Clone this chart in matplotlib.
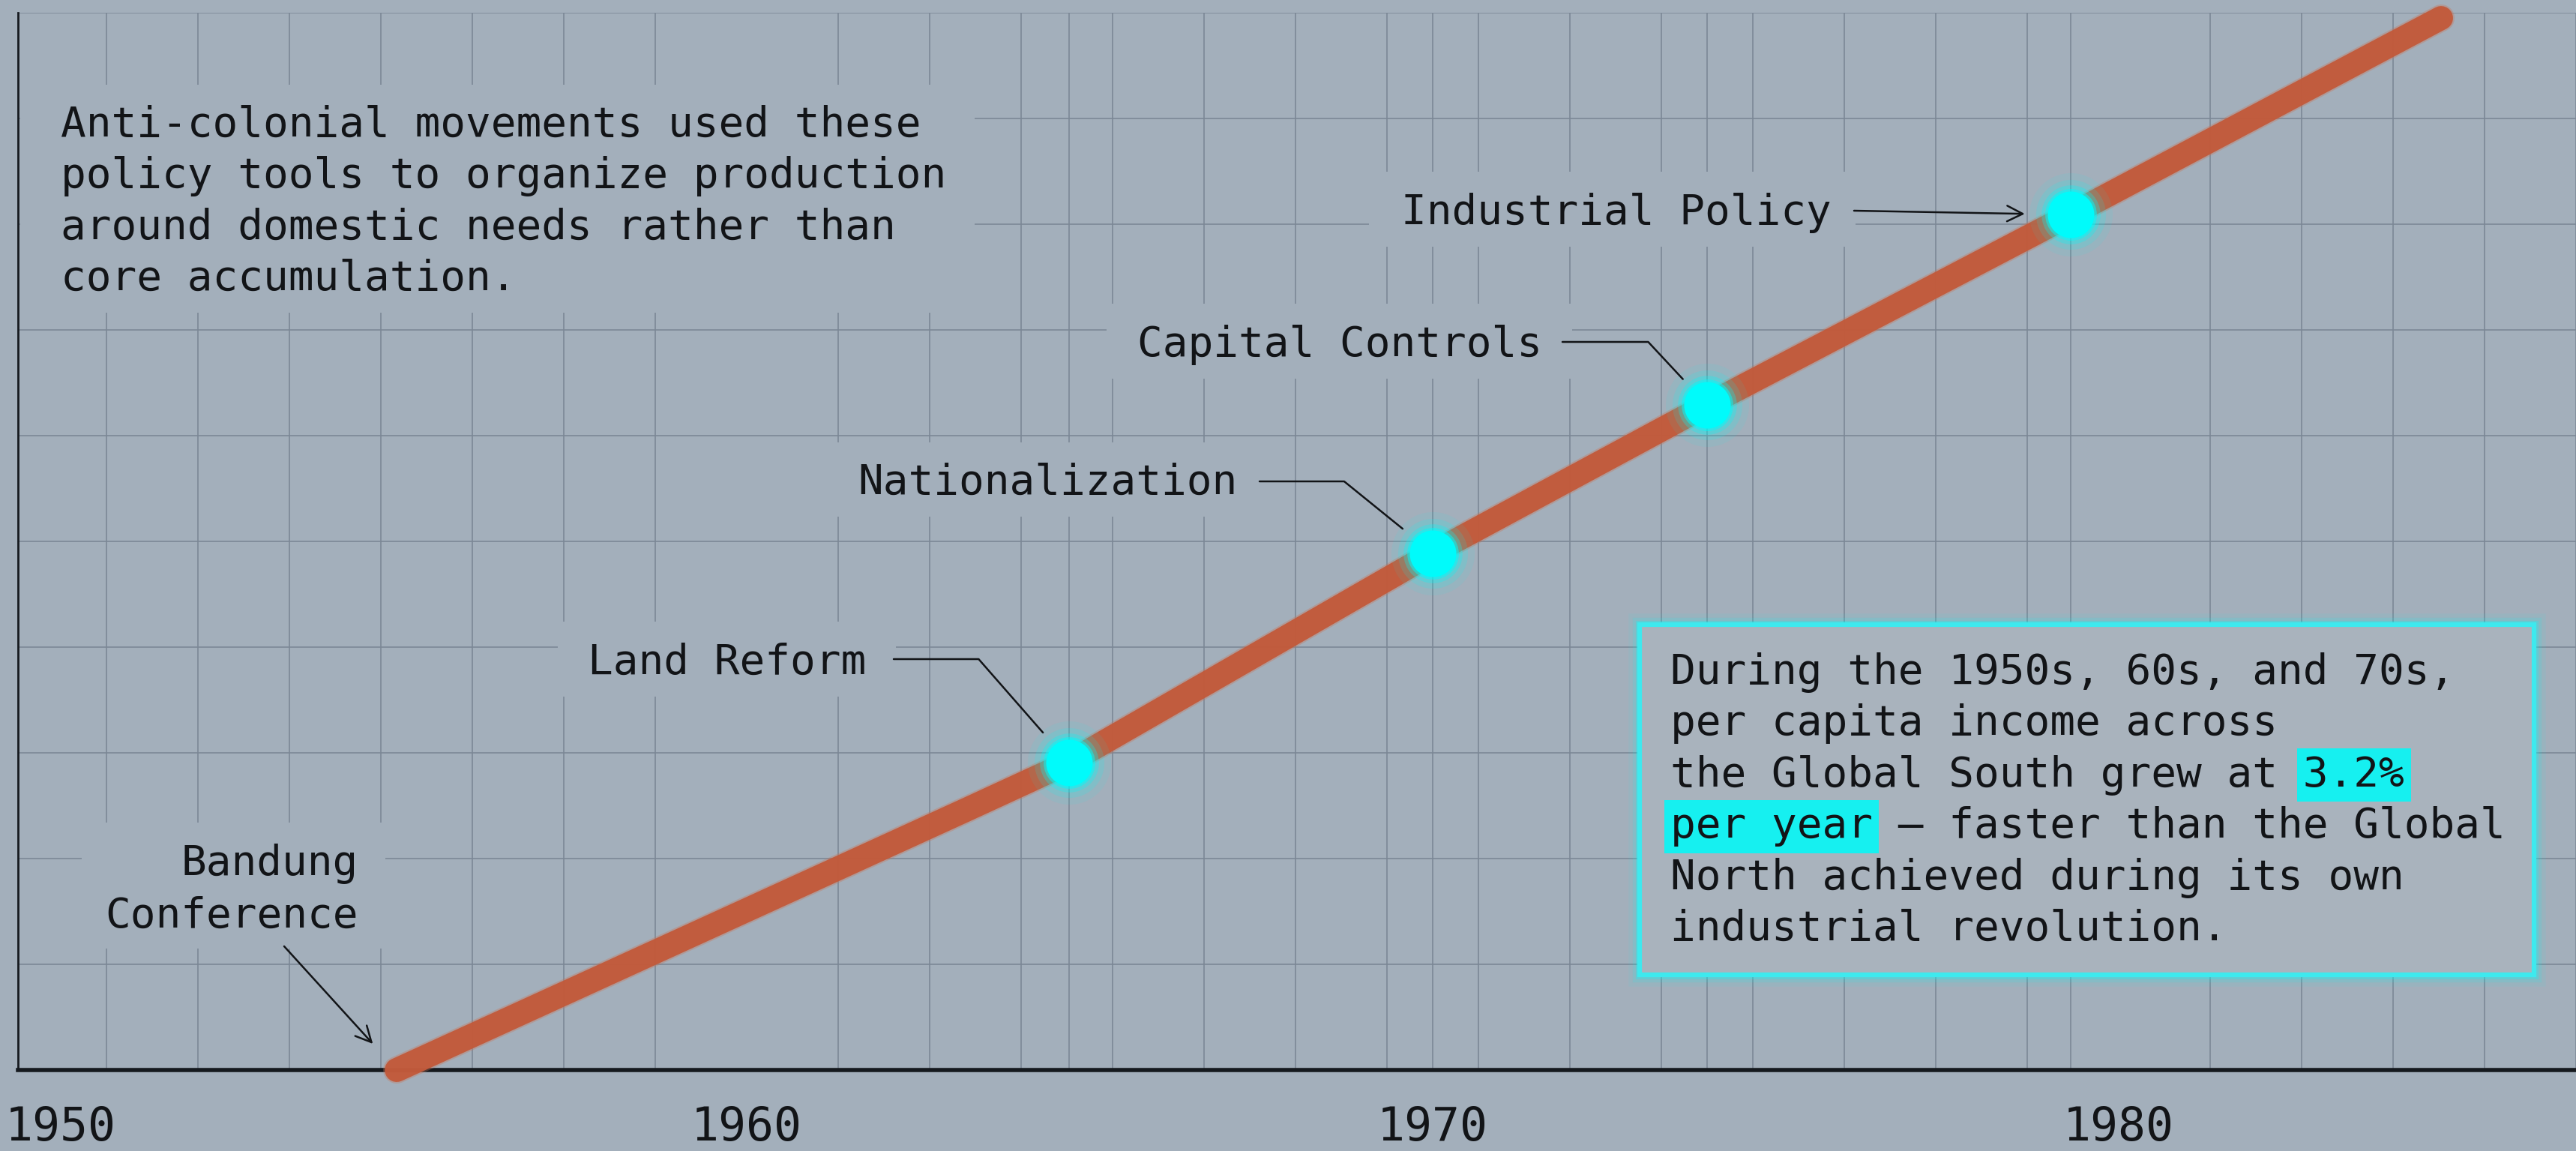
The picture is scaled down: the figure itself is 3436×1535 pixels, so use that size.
import numpy as np
import matplotlib
matplotlib.use("Agg")
import matplotlib.pyplot as plt
from matplotlib.patches import Rectangle

# ---------------- data ----------------
years = [1954.9, 1963.23, 1964.7, 1970.0, 1974.0, 1979.3, 1984.7]
income_index = [0.0, 2.47, 2.91, 4.89, 6.29, 8.09, 9.95]

event_labels = ["Land Reform", "Nationalization", "Capital Controls", "Industrial Policy"]
event_years = [1964.7, 1970.0, 1974.0, 1979.3]
event_values = [2.91, 4.89, 6.29, 8.09]

start_label = ["Bandung", "Conference"]

x_ticks = [1950, 1960, 1970, 1980]
x_tick_labels = ["1950", "1960", "1970", "1980"]

note_lines = [
    "Anti-colonial movements used these",
    "policy tools to organize production",
    "around domestic needs rather than",
    "core accumulation.",
]
box_lines = [
    "During the 1950s, 60s, and 70s,",
    "per capita income across",
    "the Global South grew at 3.2%",
    "per year \u2014 faster than the Global",
    "North achieved during its own",
    "industrial revolution.",
]
box_highlights = [(2, "3.2%"), (3, "per year")]

# ---------------- style ----------------
W, H, DPI = 3436, 1535, 100
BG = "#a3afbb"
GRID = "#7b8795"
INK = "#121417"
LINE = "#c25a3b"
CYAN = "#00fbfb"
BOXFACE = "#a9b3bd"
HL = "#16f0f0"
MONO = "DejaVu Sans Mono"
FS = 40.4
FS_TICK = 44.3
ADV_PX = 0.60205 * FS * DPI / 72.0

fig = plt.figure(figsize=(W / DPI, H / DPI), dpi=DPI, facecolor=BG)
ax = fig.add_axes([24 / W, (H - 1427) / H, (W - 24) / W, (1427 - 17) / H])
ax.set_facecolor(BG)
ax.set_xlim(1949.38, 1986.47)
ax.set_ylim(0, 10)


def fx(x):
    return x / W


def fy(y):
    return 1 - y / H


def mask(x0, y0, x1, y1, fc=BG, z=1):
    ax.add_patch(Rectangle((fx(x0), fy(y1)), (x1 - x0) / W, (y1 - y0) / H,
                           transform=fig.transFigure, fc=fc, ec="none",
                           zorder=z, clip_on=False))


def ftext(x, y, s, ha="left", z=8, **kw):
    return ax.text(fx(x), fy(y), s, transform=fig.transFigure, ha=ha,
                   va="baseline", fontsize=FS, family=MONO, color=INK,
                   zorder=z, clip_on=False, **kw)


# grid
ax.set_yticks(range(0, 11))
ax.set_yticklabels([])
minor_x = np.arange(1960 - 7 * 4 / 3, 1987, 4 / 3)
ax.set_xticks(minor_x, minor=True)
ax.set_xticks(x_ticks)
ax.set_xticklabels(x_tick_labels, fontsize=FS_TICK, family=MONO, color=INK)
ax.tick_params(axis="both", which="both", length=0)
ax.tick_params(axis="x", pad=34)
ax.grid(False)
ax.grid(True, which="minor", axis="x", color=GRID, lw=1.3, alpha=0.9)
ax.grid(True, which="major", axis="y", color=GRID, lw=1.3, alpha=0.9)
ax.set_axisbelow(True)
for ey in event_years:
    ax.axvline(ey, color=GRID, lw=1.3, alpha=0.9, zorder=0.5)

for s in ["top", "right"]:
    ax.spines[s].set_visible(False)
ax.spines["left"].set_linewidth(2.0)
ax.spines["left"].set_color("#15191e")
ax.spines["bottom"].set_linewidth(4.0)
ax.spines["bottom"].set_color("#15191e")

# main line
ax.plot(years, income_index, color="#c97457", lw=26, alpha=0.35,
        solid_capstyle="round", solid_joinstyle="round", clip_on=False, zorder=3)
ax.plot(years, income_index, color=LINE, lw=23, alpha=0.97,
        solid_capstyle="round", solid_joinstyle="round", clip_on=False, zorder=3)

# glowing markers
for s, a in [(6400, 0.07), (4500, 0.14), (3200, 0.28), (2450, 0.5)]:
    ax.scatter(event_years, event_values, s=s, color=CYAN, alpha=a, lw=0, zorder=4)
ax.scatter(event_years, event_values, s=2000, color=CYAN, lw=0, zorder=5)

# ---------------- annotations ----------------
conn_kw = dict(color=INK, lw=1.8, shrinkA=0)

# label texts: (right edge px, baseline px, mask box)
label_layout = [
    (1155, 899, (744, 829, 1195, 929)),
    (1650, 659, (1100, 590, 1677, 689)),
    (2057, 475, (1476, 405, 2097, 505)),
    (2443, 299, (1826, 229, 2475, 329)),
]
for lab, (xr, yb, mb) in zip(event_labels, label_layout):
    mask(*mb)
    ftext(xr, yb, lab, ha="right")

# elbow connectors (start px, angleB, shrinkB pt)
conn_layout = [((1192, 879), 131.2, 38), ((1680, 642), 141.0, 37), ((2084, 456), 133.0, 34)]
for (ex, ev), ((sx, sy), angB, shB) in zip(zip(event_years[:3], event_values[:3]), conn_layout):
    ax.annotate("", xy=(ex, ev), xycoords="data",
                xytext=(fx(sx), fy(sy)), textcoords="figure fraction",
                arrowprops=dict(arrowstyle="-", shrinkB=shB,
                                connectionstyle=f"angle,angleA=0,angleB={angB},rad=0",
                                **conn_kw),
                annotation_clip=False, zorder=6)

# Industrial policy arrow
ax.annotate("", xy=(event_years[3], event_values[3]), xycoords="data",
            xytext=(fx(2473), fy(281)), textcoords="figure fraction",
            arrowprops=dict(arrowstyle="->,head_length=0.5,head_width=0.25",
                            mutation_scale=30, shrinkB=44, **conn_kw),
            annotation_clip=False, zorder=6)

# Bandung Conference
mask(109, 1097, 514, 1265)
ftext(478, 1167, start_label[0], ha="right")
ftext(478, 1237, start_label[1], ha="right")
ax.annotate("", xy=(years[0], income_index[0]), xycoords="data",
            xytext=(fx(379), fy(1262)), textcoords="figure fraction",
            arrowprops=dict(arrowstyle="->,head_length=0.5,head_width=0.25",
                            mutation_scale=30, shrinkB=34, **conn_kw),
            annotation_clip=False, zorder=6)

# top-left note
mask(27, 113, 1300, 417)
for i, line in enumerate(note_lines):
    ftext(81, 182 + i * 68.4, line)

# info box
bx0, by0, bx1, by1 = 2187, 833, 3380, 1300
for lw, a in [(22, 0.06), (14, 0.12), (8, 0.25)]:
    ax.add_patch(Rectangle((fx(bx0), fy(by1)), (bx1 - bx0) / W, (by1 - by0) / H,
                           transform=fig.transFigure, fc="none", ec=CYAN,
                           lw=lw, alpha=a, zorder=6, clip_on=False))
ax.add_patch(Rectangle((fx(bx0), fy(by1)), (bx1 - bx0) / W, (by1 - by0) / H,
                       transform=fig.transFigure, fc=BOXFACE, ec="#3ee9ee",
                       lw=4.5, zorder=6, clip_on=False))

tx0, tb0, dy = 2228, 912, 68.4
for i, line in enumerate(box_lines):
    ftext(tx0, tb0 + i * dy, line, z=9)
for li, seg in box_highlights:
    n = box_lines[li].index(seg)
    ftext(tx0 + n * ADV_PX, tb0 + li * dy, seg, z=7, alpha=0.0,
          bbox=dict(boxstyle="square,pad=0.15", fc=HL, ec="none"))

fig.savefig("out.png", dpi=DPI, facecolor=BG)
